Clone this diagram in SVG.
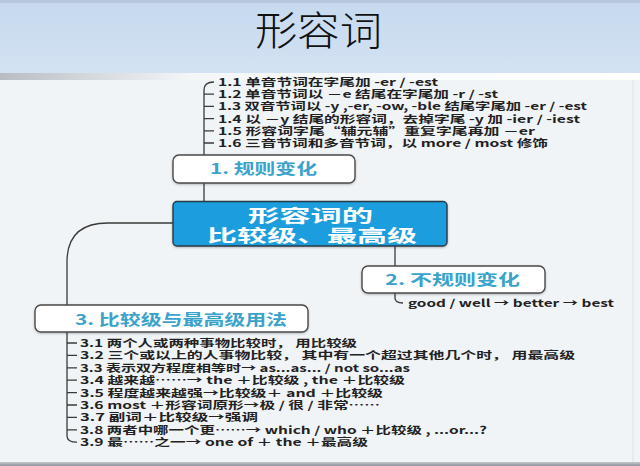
<svg xmlns="http://www.w3.org/2000/svg" width="640" height="466" viewBox="0 0 640 466">
<defs>
<linearGradient id="hdr" x1="0" y1="0" x2="0" y2="1">
<stop offset="0" stop-color="#c6d9ee"/>
<stop offset="1" stop-color="#d3e2f3"/>
</linearGradient>
<linearGradient id="strip" x1="0" y1="0" x2="1" y2="0">
<stop offset="0" stop-color="#b9bdc2"/>
<stop offset="0.3" stop-color="#f4f6f8"/>
<stop offset="1" stop-color="#ffffff"/>
</linearGradient>
<linearGradient id="bot" x1="0" y1="0" x2="0" y2="1">
<stop offset="0" stop-color="#c4c9ce"/>
<stop offset="1" stop-color="#8e959c"/>
</linearGradient>
<filter id="sh" x="-5%" y="-10%" width="110%" height="130%">
<feDropShadow dx="0" dy="1" stdDeviation="1" flood-color="#000" flood-opacity="0.25"/>
</filter>
</defs>
<style>
.list{font-family:"Noto Sans CJK SC","Noto Sans",sans-serif;font-size:10.5px;font-weight:700;fill:#222}
.node{fill:#ffffff;stroke:#4a4a4a;stroke-width:1.4}
.ntext{font-family:"Noto Sans CJK SC","Noto Sans",sans-serif;font-size:15px;font-weight:700;fill:#3aa3cc}
.ctext{font-family:"Noto Sans CJK SC","Noto Sans",sans-serif;font-size:17.5px;font-weight:700;fill:#ffffff}
.con{fill:none;stroke:#3a3a3a;stroke-width:1.3}
</style>
<rect x="0" y="0" width="640" height="466" fill="#f1f4f7"/>
<rect x="0" y="0" width="640" height="73" fill="url(#hdr)"/>
<rect x="0" y="0" width="640" height="3" fill="#b7c8dc"/>
<rect x="0" y="73" width="640" height="7" fill="url(#strip)"/>
<rect x="0" y="462" width="640" height="4" fill="url(#bot)"/>
<line x1="633" y1="80" x2="633" y2="462" stroke="#dde2e7" stroke-width="1"/>
<text x="255" y="45" textLength="127" lengthAdjust="spacingAndGlyphs" style="font-family:'Noto Sans CJK SC',serif;font-size:40px;font-weight:300;fill:#111">形容词</text>

<g id="connectors">
<path class="con" d="M204,202 V183"/>
<path class="con" d="M204,155 V90 C204,85 207,82 214,82"/>
<path class="con" d="M204,94.2 H214 M204,106.4 H214 M204,118.6 H214 M204,130.8 H214 M204,143 H214"/>
<path class="con" d="M173,223 H108 C80,223 67,236 67,262 V305"/>
<path class="con" d="M395,246 V266"/>
<path class="con" d="M395,293 V298 C395,301.5 397,303 403,303"/>
<path class="con" d="M67,332 V436 C67,440.5 70,442.2 77,442.2"/>
<path class="con" d="M67,343 H77 M67,355.4 H77 M67,367.8 H77 M67,380.2 H77 M67,392.6 H77 M67,405 H77 M67,417.4 H77 M67,429.8 H77"/>
</g>

<g id="list1">
<text class="list" x="218" y="86" textLength="220" lengthAdjust="spacingAndGlyphs">1.1 单音节词在字尾加 -er / -est</text>
<text class="list" x="218" y="98.2" textLength="280" lengthAdjust="spacingAndGlyphs">1.2 单音节词以 －e 结尾在字尾加 -r / -st</text>
<text class="list" x="218" y="110.4" textLength="369" lengthAdjust="spacingAndGlyphs">1.3 双音节词以 -y ,-er, -ow, -ble 结尾字尾加 -er / -est</text>
<text class="list" x="218" y="122.6" textLength="362" lengthAdjust="spacingAndGlyphs">1.4 以 －y 结尾的形容词，去掉字尾 -y 加 -ier / -iest</text>
<text class="list" x="218" y="134.8" textLength="317" lengthAdjust="spacingAndGlyphs">1.5 形容词字尾“辅元辅”重复字尾再加 －er</text>
<text class="list" x="218" y="147" textLength="330" lengthAdjust="spacingAndGlyphs">1.6 三音节词和多音节词，以 more / most 修饰</text>
</g>

<g id="node1">
<rect class="node" x="173" y="155" width="182" height="28" rx="6" filter="url(#sh)"/>
<text class="ntext" x="210" y="174" textLength="107" lengthAdjust="spacingAndGlyphs">1. 规则变化</text>
</g>

<g id="center">
<rect x="173" y="201.5" width="274" height="44.5" rx="4" fill="#1c9ddd" stroke="#2b3a45" stroke-width="1.4" filter="url(#sh)"/>
<text class="ctext" x="248" y="221.5" textLength="125" lengthAdjust="spacingAndGlyphs">形容词的</text>
<text class="ctext" x="207" y="241.5" textLength="210" lengthAdjust="spacingAndGlyphs">比较级、最高级</text>
</g>

<g id="node2">
<rect class="node" x="362" y="266" width="183" height="27" rx="6" filter="url(#sh)"/>
<text class="ntext" x="385" y="285" textLength="135" lengthAdjust="spacingAndGlyphs">2. 不规则变化</text>
</g>
<g id="list2">
<text class="list" x="408" y="307" textLength="206" lengthAdjust="spacingAndGlyphs">good / well → better → best</text>
</g>

<g id="node3">
<rect class="node" x="35" y="305" width="273" height="27" rx="6" filter="url(#sh)"/>
<text class="ntext" x="75" y="325" textLength="212" lengthAdjust="spacingAndGlyphs">3. 比较级与最高级用法</text>
</g>

<g id="list3">
<text class="list" x="80" y="347" textLength="277" lengthAdjust="spacingAndGlyphs">3.1 两个人或两种事物比较时， 用比较级</text>
<text class="list" x="80" y="359.4" textLength="495" lengthAdjust="spacingAndGlyphs">3.2 三个或以上的人事物比较， 其中有一个超过其他几个时， 用最高级</text>
<text class="list" x="80" y="371.8" textLength="330" lengthAdjust="spacingAndGlyphs">3.3 表示双方程度相等时→ as...as... / not so...as</text>
<text class="list" x="80" y="384.2" textLength="325" lengthAdjust="spacingAndGlyphs">3.4 越来越……→ the ＋比较级 , the ＋比较级</text>
<text class="list" x="80" y="396.6" textLength="303" lengthAdjust="spacingAndGlyphs">3.5 程度越来越强→比较级＋ and ＋比较级</text>
<text class="list" x="80" y="409" textLength="300" lengthAdjust="spacingAndGlyphs">3.6 most ＋形容词原形→极 / 很 / 非常……</text>
<text class="list" x="80" y="421.4" textLength="178" lengthAdjust="spacingAndGlyphs">3.7 副词＋比较级→强调</text>
<text class="list" x="80" y="433.8" textLength="407" lengthAdjust="spacingAndGlyphs">3.8 两者中哪一个更……→ which / who ＋比较级 , ...or...?</text>
<text class="list" x="80" y="446.2" textLength="288" lengthAdjust="spacingAndGlyphs">3.9 最……之一→ one of ＋ the ＋最高级</text>
</g>
</svg>
